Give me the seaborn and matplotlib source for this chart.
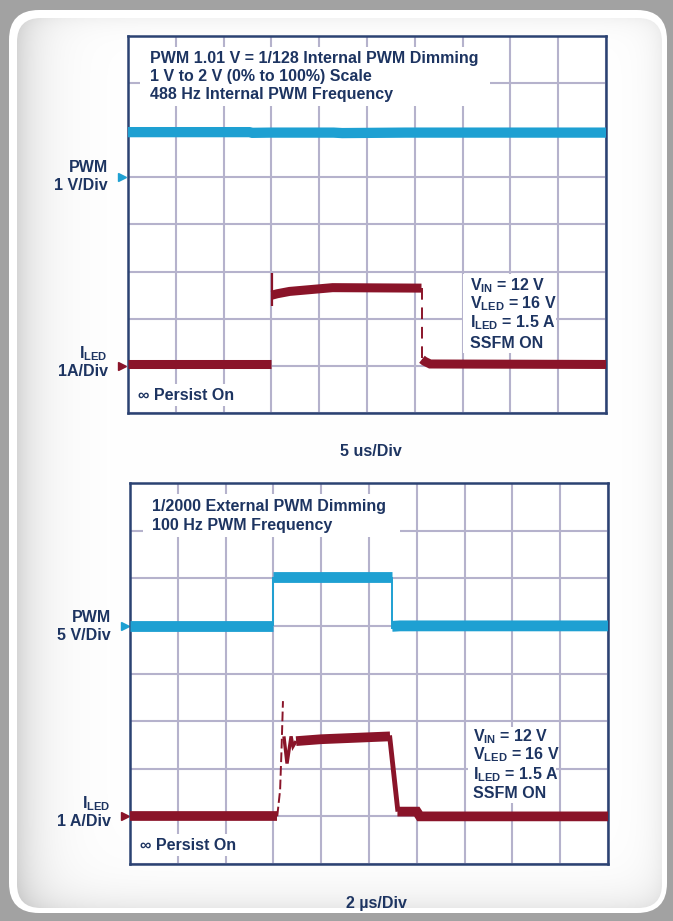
import numpy as np
import pandas as pd
import matplotlib
matplotlib.use("Agg")
import matplotlib.pyplot as plt
import seaborn as sns
from matplotlib.patches import FancyBboxPatch, Rectangle

# ---- data read off the two scope shots ----
# top shot: 5 us/div, PWM 1 V/div (0 V at div 5), ILED 1 A/div (0 A at div 1)
top_pwm_t = [0, 12.7, 13.0, 14.9, 21.5, 22.4, 29.0, 50]
top_pwm_v = [0.96, 0.96, 0.945, 0.95, 0.95, 0.94, 0.95, 0.95]
top_led_low1_t = [0, 15.0]
top_led_low1_i = [0.03, 0.03]
top_led_spike_t = [15.05, 15.05]
top_led_spike_i = [1.98, 1.27]
top_led_high_t = [15.05, 15.6, 16.9, 21.4, 30.7]
top_led_high_i = [1.50, 1.53, 1.58, 1.66, 1.65]
top_led_fall_t = [30.72, 30.72]
top_led_fall_i = [1.65, 0.15]
top_led_low2_t = [30.75, 31.0, 31.6, 50]
top_led_low2_i = [0.14, 0.10, 0.04, 0.03]

# bottom shot: 2 us/div, PWM 5 V/div (0 V at div 5), ILED 1 A/div (0 A at div 1)
bot_pwm_low1_t = [0, 6.0]
bot_pwm_low1_v = [0.0, 0.0]
bot_pwm_rise_t = [6.0, 6.0]
bot_pwm_rise_v = [0.0, 5.15]
bot_pwm_high_t = [6.0, 10.97]
bot_pwm_high_v = [5.15, 5.15]
bot_pwm_fall_t = [10.97, 10.97]
bot_pwm_fall_v = [5.15, -0.3]
bot_pwm_low2_t = [10.97, 11.3, 20]
bot_pwm_low2_v = [-0.05, 0.0, 0.0]
bot_led_low1_t = [0, 6.16]
bot_led_low1_i = [0.0, 0.0]
bot_led_rise_t = [6.16, 6.28, 6.34, 6.40]
bot_led_rise_i = [0.0, 0.55, 1.4, 2.42]
bot_led_ring_t = [6.44, 6.57, 6.74, 6.82, 6.95]
bot_led_ring_i = [1.68, 1.11, 1.68, 1.47, 1.58]
bot_led_high_t = [6.95, 8.0, 10.88]
bot_led_high_i = [1.58, 1.62, 1.68]
bot_led_fall_t = [10.86, 11.21]
bot_led_fall_i = [1.70, 0.10]
bot_led_low2_t = [11.19, 12.0, 12.13, 20]
bot_led_low2_i = [0.10, 0.10, 0.0, 0.0]

W, H = 673, 921
BLUE = "#1ea0d2"
RED = "#8a1429"
NAVY = "#1d3461"
GRID = "#b5b2cc"
FRAME = "#2b4272"

sns.set_theme(style="white")
plt.rcParams["font.family"] = ["Liberation Sans", "DejaVu Sans"]
plt.rcParams["mathtext.fontset"] = "custom"
plt.rcParams["mathtext.rm"] = "Liberation Sans:bold"
plt.rcParams["mathtext.it"] = "Liberation Sans:bold"
plt.rcParams["mathtext.bf"] = "Liberation Sans:bold"

fig = plt.figure(figsize=(W / 100, H / 100), dpi=100)
fig.patch.set_facecolor("#a2a2a2")

# card background
bg = fig.add_axes([0, 0, 1, 1], zorder=-10)
bg.set_xlim(0, W)
bg.set_ylim(H, 0)
bg.axis("off")
bg.add_patch(FancyBboxPatch((9, 10), 658, 903, boxstyle="round,pad=0,rounding_size=30",
                            fc="white", ec="none"))
xx, yy = np.meshgrid(np.arange(W), np.arange(H))
shade = (0.16 * np.exp(-(xx - 17) / 24) + 0.05 * np.exp(-(yy - 18) / 10)
         + 0.07 * np.exp(-(662 - xx) / 14) + 0.09 * np.exp(-(908 - yy) / 18))
shade = 1 - np.clip(shade, 0, 0.2)
img = bg.imshow(np.dstack([shade] * 3), extent=(0, W, H, 0), aspect="auto", zorder=1)
inner = FancyBboxPatch((17, 18), 645, 890, boxstyle="round,pad=0,rounding_size=24",
                       fc="none", ec="none")
bg.add_patch(inner)
img.set_clip_path(inner)


def scope_axes(x0, y0, x1, y1, tmax):
    ax = fig.add_axes([x0 / W, 1 - y1 / H, (x1 - x0) / W, (y1 - y0) / H])
    ax.set_xlim(0, tmax)
    ax.set_ylim(0, 8)
    ax.set_xticks(np.linspace(0, tmax, 11))
    ax.set_yticks(range(9))
    ax.tick_params(length=0, labelbottom=False, labelleft=False)
    ax.grid(True, color=GRID, lw=1.5)
    ax.set_facecolor("white")
    for s in ax.spines.values():
        s.set_color(FRAME)
        s.set_linewidth(1.8)
    return ax


def trace(ax, t, vals, off, scale, color, lw, ls="-"):
    df = pd.DataFrame({"t": t, "y": [off + v / scale for v in vals]})
    sns.lineplot(data=df, x="t", y="y", ax=ax, color=color, lw=lw, ls=ls,
                 estimator=None, sort=False, zorder=5,
                 solid_capstyle="butt", solid_joinstyle="miter")


ax1 = scope_axes(128, 36, 606, 413, 50)
trace(ax1, top_pwm_t, top_pwm_v, 5, 1, BLUE, 7.4)
trace(ax1, top_led_low1_t, top_led_low1_i, 1, 1, RED, 6.5)
trace(ax1, top_led_spike_t, top_led_spike_i, 1, 1, RED, 1.6)
trace(ax1, top_led_high_t, top_led_high_i, 1, 1, RED, 6.5)
trace(ax1, top_led_fall_t, top_led_fall_i, 1, 1, RED, 1.4, (0, (6, 4)))
trace(ax1, top_led_low2_t, top_led_low2_i, 1, 1, RED, 6.5)
ax1.plot([-0.6], [5], marker=">", ms=6, color=BLUE, clip_on=False)
ax1.plot([-0.6], [1], marker=">", ms=6, color=RED, clip_on=False)

ax2 = scope_axes(130, 483, 608, 864, 20)
trace(ax2, bot_pwm_low1_t, bot_pwm_low1_v, 5, 5, BLUE, 7.8)
trace(ax2, bot_pwm_rise_t, bot_pwm_rise_v, 5, 5, BLUE, 1.4)
trace(ax2, bot_pwm_high_t, bot_pwm_high_v, 5, 5, BLUE, 7.8)
trace(ax2, bot_pwm_fall_t, bot_pwm_fall_v, 5, 5, BLUE, 1.4)
trace(ax2, bot_pwm_low2_t, bot_pwm_low2_v, 5, 5, BLUE, 7.8)
trace(ax2, bot_led_low1_t, bot_led_low1_i, 1, 1, RED, 7.0)
trace(ax2, bot_led_rise_t, bot_led_rise_i, 1, 1, RED, 1.4, (0, (5, 2)))
trace(ax2, bot_led_ring_t, bot_led_ring_i, 1, 1, RED, 2.4)
trace(ax2, bot_led_high_t, bot_led_high_i, 1, 1, RED, 7.0)
trace(ax2, bot_led_fall_t, bot_led_fall_i, 1, 1, RED, 3.5)
trace(ax2, bot_led_low2_t, bot_led_low2_i, 1, 1, RED, 7.0)
ax2.plot([-0.22], [5], marker=">", ms=6, color=BLUE, clip_on=False)
ax2.plot([-0.22], [1], marker=">", ms=6, color=RED, clip_on=False)
for a in (ax1, ax2):
    a.set_xlabel("")
    a.set_ylabel("")


def white_box(x0, y0, x1, y1):
    fig.patches.append(Rectangle((x0 / W, 1 - y1 / H), (x1 - x0) / W, (y1 - y0) / H,
                                 transform=fig.transFigure, fc="white", ec="none", zorder=2))


def label(px, py, s, ha="left", size=11.5):
    fig.text(px / W, 1 - py / H, s, ha=ha, va="center", color=NAVY,
             fontsize=size, fontweight="bold", zorder=3)


# top shot texts
white_box(140, 47, 490, 106)
label(150, 58, "PWM 1.01 V = 1/128 Internal PWM Dimming")
label(150, 76, "1 V to 2 V (0% to 100%) Scale")
label(150, 95, "488 Hz Internal PWM Frequency")
label(108, 167, "PWM", "right")
label(108, 186, "1 V/Div", "right")
label(108, 354, r"I$_{\mathrm{LED}}$", "right")
label(108, 371, "1A/Div", "right")
white_box(133, 384, 250, 406)
label(138, 395, "∞ Persist On")
white_box(463, 274, 556, 353)
label(470, 286, r"V$_{\mathrm{IN}}$ = 12 V")
label(470, 304, r"V$_{\mathrm{LED}}$ = 16 V")
label(470, 323, r"I$_{\mathrm{LED}}$ = 1.5 A")
label(470, 343, "SSFM ON")
label(371, 451, "5 us/Div", "center")

# bottom shot texts
white_box(143, 494, 400, 537)
label(152, 507, "1/2000 External PWM Dimming")
label(152, 525, "100 Hz PWM Frequency")
label(111, 617, "PWM", "right")
label(111, 636, "5 V/Div", "right")
label(111, 804, r"I$_{\mathrm{LED}}$", "right")
label(111, 822, "1 A/Div", "right")
white_box(135, 834, 252, 856)
label(140, 845, "∞ Persist On")
white_box(468, 727, 556, 803)
label(473, 737, r"V$_{\mathrm{IN}}$ = 12 V")
label(473, 755, r"V$_{\mathrm{LED}}$ = 16 V")
label(473, 775, r"I$_{\mathrm{LED}}$ = 1.5 A")
label(473, 793, "SSFM ON")
label(376, 903, "2 µs/Div", "center")

fig.savefig("out.png", dpi=100, facecolor=fig.get_facecolor())
